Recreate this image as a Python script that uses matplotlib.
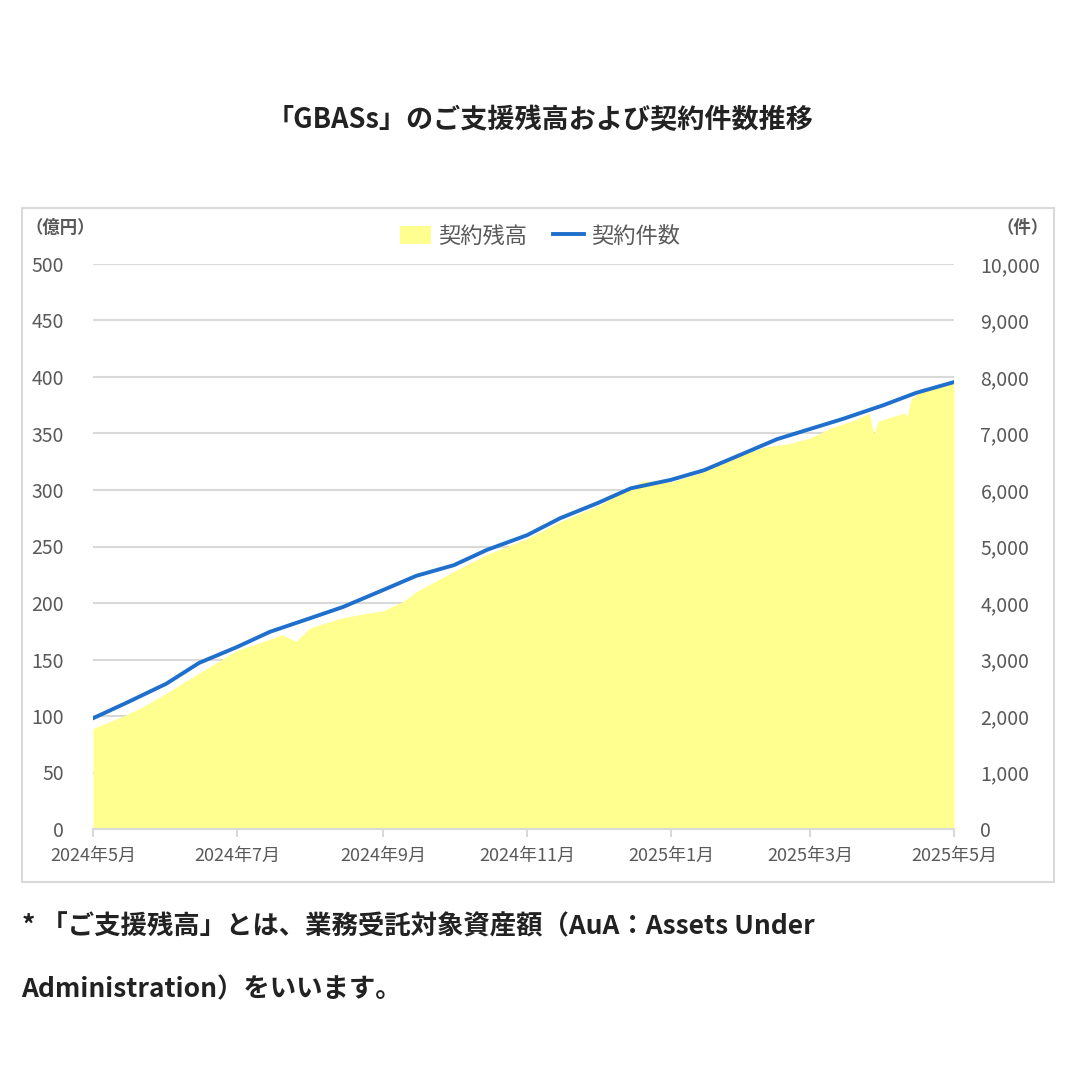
import numpy as np
import matplotlib
matplotlib.use("Agg")
import matplotlib.pyplot as plt
import matplotlib.dates as mdates
from matplotlib.patches import Patch, Rectangle
from matplotlib.lines import Line2D
from matplotlib.ticker import FuncFormatter

plt.rcParams['font.family'] = ['Noto Sans CJK JP', 'DejaVu Sans']

# 契約残高 (億円)
aua_dates = ['2024-05-01', '2024-05-08', '2024-05-15', '2024-05-22', '2024-06-01',
             '2024-06-15', '2024-07-01', '2024-07-15', '2024-07-20', '2024-07-26',
             '2024-08-01', '2024-08-15', '2024-08-25', '2024-09-01', '2024-09-10',
             '2024-09-15', '2024-10-01', '2024-10-15', '2024-11-01', '2024-11-15',
             '2024-12-01', '2024-12-15', '2024-12-20', '2025-01-01', '2025-01-15',
             '2025-02-01', '2025-02-10', '2025-02-20', '2025-03-01', '2025-03-10',
             '2025-03-20', '2025-03-26', '2025-03-28', '2025-03-30', '2025-04-05',
             '2025-04-10', '2025-04-11', '2025-04-13', '2025-04-17', '2025-04-22',
             '2025-05-01']
aua_values = [89, 95, 101, 108, 120,
              138, 158, 168, 172, 166,
              178, 187, 191, 193, 202,
              210, 228, 243, 257, 272,
              286, 302, 308, 307, 316,
              332, 338, 341, 346, 355,
              362, 368, 350, 361, 365,
              368, 365, 381, 387, 391,
              394]

# 契約件数 (件)
count_dates = ['2024-05-01', '2024-05-15', '2024-06-01', '2024-06-15', '2024-07-01',
               '2024-07-15', '2024-08-01', '2024-08-15', '2024-09-01', '2024-09-15',
               '2024-10-01', '2024-10-15', '2024-11-01', '2024-11-15', '2024-12-01',
               '2024-12-15', '2025-01-01', '2025-01-15', '2025-02-01', '2025-02-15',
               '2025-03-01', '2025-03-15', '2025-04-01', '2025-04-15', '2025-05-01']
count_values = [1960, 2230, 2570, 2940, 3220,
                3490, 3730, 3930, 4230, 4480,
                4670, 4940, 5200, 5500, 5770,
                6030, 6180, 6350, 6650, 6900,
                7080, 7260, 7500, 7720, 7910]

aua_x = np.array(aua_dates, dtype='datetime64[D]')
count_x = np.array(count_dates, dtype='datetime64[D]')

GRAY = '#595959'
GRID = '#d9d9d9'
YELLOW = '#ffff8f'
BLUE = '#1f6fcc'

fig = plt.figure(figsize=(10.8, 10.8), dpi=100)
fig.patch.set_facecolor('white')

ax = fig.add_axes([93 / 1080, 1 - 829 / 1080, (954 - 93) / 1080, (829 - 264) / 1080])
ax.fill_between(aua_x, aua_values, color=YELLOW, lw=0, zorder=1)
ax.set_ylim(0, 500)
ax.set_xlim(np.datetime64('2024-05-01'), np.datetime64('2025-05-01'))
ax.set_yticks(np.arange(0, 501, 50))
ax.set_axisbelow(True)
ax.grid(axis='y', color=GRID, lw=1.5)
for s in ['top', 'right', 'left']:
    ax.spines[s].set_visible(False)
ax.spines['bottom'].set_color(GRID)
ax.spines['bottom'].set_linewidth(1.5)
ax.xaxis.set_major_locator(mdates.MonthLocator(bymonth=[1, 3, 5, 7, 9, 11]))
ax.xaxis.set_major_formatter(FuncFormatter(
    lambda v, p: "{}年{}月".format(mdates.num2date(v).year, mdates.num2date(v).month)))
ax.tick_params(axis='x', colors=GRID, length=6, width=1.5, labelcolor=GRAY,
               labelsize=13, pad=7)
ax.tick_params(axis='y', length=0, labelcolor=GRAY, labelsize=14, pad=21)

ax2 = ax.twinx()
ax2.plot(count_x, count_values, color=BLUE, lw=2.8, zorder=3)
ax2.set_ylim(0, 10000)
ax2.set_yticks(np.arange(0, 10001, 1000))
ax2.yaxis.set_major_formatter(FuncFormatter(lambda v, p: "{:,}".format(int(v))))
ax2.tick_params(axis='y', length=0, labelcolor=GRAY, labelsize=14, pad=19)
for s in ax2.spines.values():
    s.set_visible(False)

# chart frame
fig.patches.append(Rectangle((22 / 1080, 1 - 882 / 1080), (1054 - 22) / 1080,
                             (882 - 208) / 1080, transform=fig.transFigure,
                             fill=False, ec=GRID, lw=1.5))

fig.text(0.5, 1 - 120 / 1080, "「GBASs」のご支援残高および契約件数推移",
         ha='center', va='center', fontsize=19.5, fontweight='bold', color='#222222')

fig.text(0.024, 1 - 228 / 1080, "（億円）", ha='left', va='center', fontsize=12.5,
         fontweight='bold', color=GRAY)
fig.text(0.971, 1 - 228 / 1080, "（件）", ha='right', va='center', fontsize=12.5,
         fontweight='bold', color=GRAY)

handles = [Patch(facecolor=YELLOW, edgecolor='none'),
           Line2D([0], [0], color=BLUE, lw=2.8)]
fig.legend(handles, ["契約残高", "契約件数"], loc='center', bbox_to_anchor=(0.5, 1 - 236 / 1080),
           ncol=2, frameon=False, fontsize=16, labelcolor=GRAY,
           handlelength=1.4, handleheight=0.9, handletextpad=0.3, columnspacing=1.2)

fig.text(0.02, 1 - 927 / 1080, "* 「ご支援残高」とは、業務受託対象資産額（AuA：Assets Under",
         ha='left', va='center', fontsize=19, fontweight='bold', color='#222222')
fig.text(0.02, 1 - 990 / 1080, "Administration）をいいます。",
         ha='left', va='center', fontsize=19, fontweight='bold', color='#222222')

fig.savefig("out.png", dpi=100, facecolor='white')
